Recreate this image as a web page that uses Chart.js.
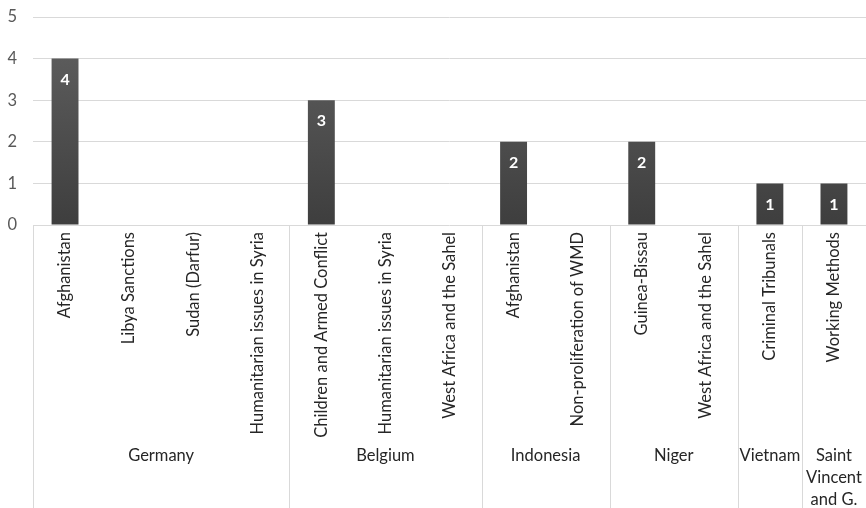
<!DOCTYPE html>
<html>
<head>
<meta charset="utf-8">
<script src="https://cdn.jsdelivr.net/npm/chart.js@4/dist/chart.umd.min.js"></script>
<style>
  html, body { margin: 0; padding: 0; background: #fff; }
  #wrap { width: 866px; height: 508px; }
</style>
</head>
<body>
<div id="wrap"><canvas id="chart" width="866" height="508"></canvas></div>
<script>
// committee topics, grouped by country
const topics = ['Afghanistan', 'Libya Sanctions', 'Sudan (Darfur)', 'Humanitarian issues in Syria',
  'Children and Armed Conflict', 'Humanitarian issues in Syria', 'West Africa and the Sahel',
  'Afghanistan', 'Non-proliferation of WMD',
  'Guinea-Bissau', 'West Africa and the Sahel',
  'Criminal Tribunals',
  'Working Methods'];
const counts = [4, null, null, null, 3, null, null, 2, null, 2, null, 1, 1];
const countries = ['Germany', 'Belgium', 'Indonesia', 'Niger', 'Vietnam', ['Saint', 'Vincent', 'and G.']];
const countrySizes = [4, 3, 2, 2, 1, 1];
const yTicks = [0, 1, 2, 3, 4, 5];

const FONT = "Lato, 'Open Sans', sans-serif";

// second level of the category axis: country names and separators
const countryAxis = {
   id: 'countryAxis',
   afterDraw(chart) {
      const ctx = chart.ctx;
      const x = chart.scales.x;
      const area = chart.chartArea;
      const half = (x.getPixelForValue(1) - x.getPixelForValue(0)) / 2;
      ctx.save();
      ctx.strokeStyle = '#d9d9d9';
      ctx.lineWidth = 1;
      ctx.fillStyle = '#262626';
      ctx.font = '16.5px ' + FONT;
      ctx.textAlign = 'center';
      ctx.textBaseline = 'middle';
      let start = 0;
      countries.forEach((name, i) => {
         const end = start + countrySizes[i] - 1;
         const left = x.getPixelForValue(start) - half;
         const right = x.getPixelForValue(end) + half;
         const lx = Math.round(left) + 0.5;
         ctx.beginPath();
         ctx.moveTo(lx, area.bottom);
         ctx.lineTo(lx, chart.height);
         ctx.stroke();
         const lines = Array.isArray(name) ? name : [name];
         lines.forEach((line, j) => {
            ctx.fillText(line, (left + right) / 2, area.bottom + 231 + j * 22);
         });
         start = end + 1;
      });
      ctx.restore();
   }
};

// value printed inside the top of each bar
const barValues = {
   id: 'barValues',
   afterDatasetsDraw(chart) {
      const ctx = chart.ctx;
      const meta = chart.getDatasetMeta(0);
      ctx.save();
      ctx.fillStyle = '#ffffff';
      ctx.font = 'bold 16px ' + FONT;
      ctx.textAlign = 'center';
      ctx.textBaseline = 'middle';
      meta.data.forEach((bar, i) => {
         const v = counts[i];
         if (v === null || v === undefined) return;
         ctx.fillText(String(v), bar.x, bar.y + 21);
      });
      ctx.restore();
   }
};

const ctx = document.getElementById('chart').getContext('2d');
new Chart(ctx, {
   type: 'bar',
   data: {
      labels: topics,
      datasets: [{
         data: counts,
         backgroundColor: function (context) {
            const area = context.chart.chartArea;
            if (!area) return '#474747';
            const g = context.chart.ctx.createLinearGradient(0, area.top, 0, area.bottom);
            g.addColorStop(0, '#626262');
            g.addColorStop(1, '#3e3e3e');
            return g;
         },
         borderWidth: 0,
         categoryPercentage: 1,
         barPercentage: 0.42
      }]
   },
   options: {
      responsive: false,
      animation: false,
      layout: { padding: { top: 17, right: 0, bottom: 0, left: 0 } },
      plugins: {
         legend: { display: false },
         tooltip: { enabled: false },
         title: { display: false }
      },
      scales: {
         x: {
            grid: { display: false, drawTicks: false },
            border: { display: false },
            ticks: {
               autoSkip: false,
               minRotation: 90,
               maxRotation: 90,
               padding: 7,
               color: '#262626',
               font: { family: FONT, size: 16.5 }
            },
            afterFit: function (scale) {
               scale.height = 283;
               scale.paddingLeft = 0;
               scale.paddingRight = 0;
            }
         },
         y: {
            min: 0,
            max: 5,
            afterBuildTicks: function (scale) { scale.ticks = yTicks.map(v => ({ value: v })); },
            grid: { color: '#d9d9d9', lineWidth: 1, drawTicks: false },
            border: { display: false },
            ticks: {
               padding: 16,
               color: '#595959',
               font: { family: FONT, size: 16.5 }
            },
            afterFit: function (scale) {
               scale.width = 33;
               scale.paddingTop = 0;
               scale.paddingBottom = 0;
            }
         }
      }
   },
   plugins: [countryAxis, barValues]
});
</script>
</body>
</html>
